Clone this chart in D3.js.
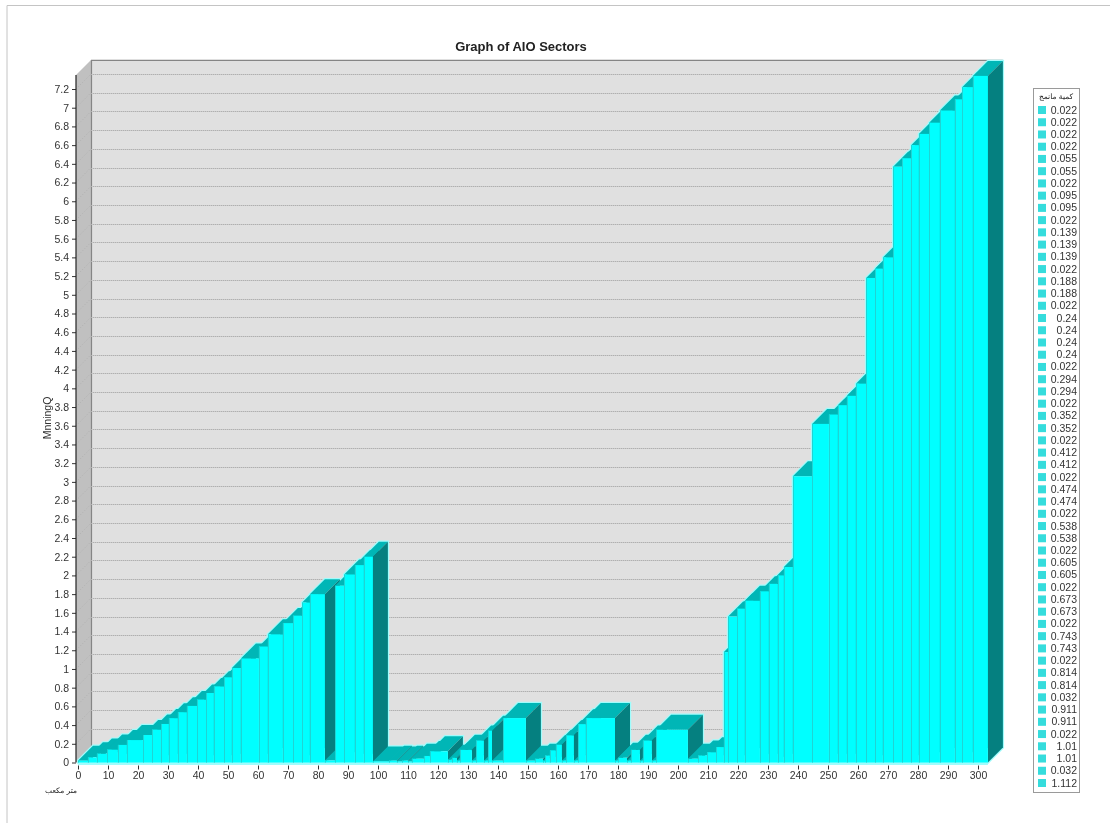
<!DOCTYPE html>
<html>
<head>
<meta charset="utf-8">
<script src="https://cdnjs.cloudflare.com/ajax/libs/d3/7.8.5/d3.min.js"></script>
<style>
  html, body { margin: 0; padding: 0; background: #fff; }
  /* the reference is a soft jpeg */
  svg { display: block; font-family: "Liberation Sans", Arial, sans-serif; filter: blur(0.4px); }
</style>
</head>
<body>
<div id="chart"></div>
<script>
// left edge of every bar on the x axis, last entry is the right end of the final bar
var binEdges = [
  0, 3.3, 6.3, 9.7, 13.3, 16.3, 21.7, 24.7, 27.7, 30.3, 33.3, 36.3, 39.7, 42.7, 45.3, 48.7, 51.3, 54.3,
  60.3, 63.3, 68.3, 71.7, 74.7, 77.3, 82.3, 85.7, 88.7, 92.3, 95.3, 98.3,
  103.7, 106.3, 108, 110, 111.3, 115.3, 117.3, 123.3, 124.7, 126.3, 127.3, 131.3, 132.7, 135.3, 136.7, 138, 141.7,
  149.3, 152.3, 155, 155.7, 157.3, 159.3, 161.3, 162.7, 165.3, 166.7, 169.3,
  179, 180, 183, 184.3, 187.3, 188.3, 191.3, 192.7,
  203.3, 206.7, 209.7, 212.7, 215.3, 216.7, 219.7, 222.3, 227.3, 230.3, 233.3, 235.3, 238.3,
  244.7, 250.3, 253.3, 256.3, 259.3, 262.7, 265.7, 268.3, 271.7, 274.7, 277.7, 280.3, 283.7, 287.3, 292.3, 294.7, 298.3,
  303.3
];
var binValues = [
  0.02, 0.055, 0.095, 0.139, 0.188, 0.24, 0.294, 0.352, 0.412, 0.474, 0.538, 0.605, 0.673, 0.743, 0.814, 0.911, 1.01, 1.112,
  1.24, 1.37, 1.49, 1.57, 1.71, 1.80, 0.022, 1.89, 2.01, 2.11, 2.20, 0.012,
  0.02, 0.01, 0.02, 0.01, 0.04, 0.07, 0.12, 0.03, 0.05, 0.02, 0.135, 0.02, 0.235, 0.02, 0.34, 0.02, 0.475,
  0.02, 0.04, 0.02, 0.075, 0.13, 0.19, 0.02, 0.29, 0.02, 0.41, 0.475,
  0.02, 0.05, 0.02, 0.135, 0.02, 0.235, 0.02, 0.35,
  0.04, 0.075, 0.11, 0.165, 1.18, 1.56, 1.645, 1.73, 1.83, 1.91, 2.0, 2.09, 3.06,
  3.62, 3.72, 3.82, 3.92, 4.05, 5.18, 5.28, 5.40, 6.37, 6.46, 6.6, 6.72, 6.84, 6.97, 7.09, 7.22, 7.34
];
var xTicks = [0,10,20,30,40,50,60,70,80,90,100,110,120,130,140,150,160,170,180,190,200,210,220,230,240,250,260,270,280,290,300];
var yTicks = [0,0.2,0.4,0.6,0.8,1,1.2,1.4,1.6,1.8,2,2.2,2.4,2.6,2.8,3,3.2,3.4,3.6,3.8,4,4.2,4.4,4.6,4.8,5,5.2,5.4,5.6,5.8,6,6.2,6.4,6.6,6.8,7,7.2];
var legendValues = [
  "0.022","0.022","0.022","0.022","0.055","0.055","0.022","0.095","0.095","0.022","0.139","0.139","0.139","0.022",
  "0.188","0.188","0.022","0.24","0.24","0.24","0.24","0.022","0.294","0.294","0.022","0.352","0.352","0.022",
  "0.412","0.412","0.022","0.474","0.474","0.022","0.538","0.538","0.022","0.605","0.605","0.022","0.673","0.673",
  "0.022","0.743","0.743","0.022","0.814","0.814","0.032","0.911","0.911","0.022","1.01","1.01","0.032","1.112"
];

var width = 1110, height = 823;
var depth = 15;   // 3d offset of the back wall

var svg = d3.select("#chart").append("svg")
  .attr("width", width)
  .attr("height", height);

var x = d3.scaleLinear().domain([0, 300]).range([78, 978]);
var y = d3.scaleLinear().domain([0, 7.2]).range([762.5, 89]);
var yTop = y(7.35);

// outer frame, only top and left show in the picture
svg.append("path")
  .attr("d", "M7,823V5.5H1110")
  .attr("fill", "none")
  .attr("stroke", "#c4c4c4");

svg.append("text")
  .attr("x", 521).attr("y", 51)
  .attr("text-anchor", "middle")
  .attr("font-size", 13).attr("font-weight", "bold").attr("fill", "#222")
  .text("Graph of AIO Sectors");

// walls
var left = x(0) - 2, right = x(303.3);
svg.append("path")
  .attr("d", "M" + left + "," + y(0) + "V" + yTop + "l" + depth + "," + (-depth) + "V" + (y(0) - depth) + "Z")
  .attr("fill", "#c0c0c0");
svg.append("rect")
  .attr("x", left + depth).attr("y", yTop - depth)
  .attr("width", right - left).attr("height", y(0) - yTop)
  .attr("fill", "#e0e0e0");
svg.append("path")
  .attr("d", "M" + (left + depth + 0.5) + "," + (y(0) - depth) + "V" + (yTop - depth + 0.5) + "H" + (right + depth))
  .attr("fill", "none").attr("stroke", "#858585").attr("stroke-width", 1.2);

// grid lines on both walls
var grid = svg.append("g");
yTicks.forEach(function(v) {
  if (v === 0) return;
  var gy = Math.round(y(v) - depth) + 0.5;
  grid.append("line")
    .attr("x1", left + depth).attr("x2", right + depth)
    .attr("y1", gy).attr("y2", gy)
    .attr("stroke", "#cacaca");
  grid.append("line")
    .attr("x1", left + depth).attr("x2", right + depth)
    .attr("y1", gy).attr("y2", gy)
    .attr("stroke", "#b0b0b0").attr("stroke-dasharray", "1,1");
  grid.append("line")
    .attr("x1", left).attr("x2", left + depth)
    .attr("y1", y(v)).attr("y2", y(v) - depth)
    .attr("stroke", "#a4a4a4").attr("stroke-width", 0.6).attr("stroke-dasharray", "1,2");
});

var bars = binValues.map(function(v, i) {
  return {x0: binEdges[i], x1: binEdges[i + 1], value: v};
});

function outline(d) {
  var a = x(d.x0), b = x(d.x1), t = y(d.value), z = y(0);
  return "M" + a + "," + z + "V" + t + "l" + depth + "," + (-depth) + "H" + (b + depth) +
    "V" + (z - depth) + "L" + b + "," + z + "Z";
}

// light rim round the whole silhouette, the bars are painted over it
svg.append("g").selectAll("path")
  .data(bars)
  .join("path")
  .attr("d", outline)
  .attr("fill", "none")
  .attr("stroke", "#9ffcfc")
  .attr("stroke-width", 2.4);
svg.append("rect")
  .attr("x", x(0)).attr("y", y(0))
  .attr("width", x(303.3) - x(0)).attr("height", 2.5)
  .attr("fill", "#9ffcfc");

// left to right so each bar hides the side of the previous one
var bar = svg.append("g").selectAll("g")
  .data(bars)
  .join("g");

bar.append("path")
  .attr("fill", "#00b6b6")
  .attr("d", function(d) {
    return "M" + x(d.x0) + "," + y(d.value) + "l" + depth + "," + (-depth) + "H" + (x(d.x1) + depth) +
      "l" + (-depth) + "," + depth + "Z";
  });
bar.append("path")
  .attr("fill", "#058080")
  .attr("d", function(d) {
    return "M" + x(d.x1) + "," + y(d.value) + "l" + depth + "," + (-depth) + "V" + (y(0) - depth) +
      "L" + x(d.x1) + "," + y(0) + "Z";
  });
bar.append("rect")
  .attr("fill", "#00ffff")
  .attr("x", function(d) { return x(d.x0); })
  .attr("y", function(d) { return y(d.value); })
  .attr("width", function(d) { return x(d.x1) - x(d.x0); })
  .attr("height", function(d) { return y(0) - y(d.value); });
bar.append("line")
  .attr("stroke", "#1fd4d4")
  .attr("x1", function(d) { return Math.round(x(d.x0)) + 0.5; })
  .attr("x2", function(d) { return Math.round(x(d.x0)) + 0.5; })
  .attr("y1", function(d) { return y(d.value); })
  .attr("y2", y(0));

// axes
var xAxis = svg.append("g")
  .attr("transform", "translate(0," + (y(0) + 3) + ")")
  .call(d3.axisBottom(x).tickValues(xTicks).tickSize(4).tickPadding(2).tickFormat(d3.format("d")));
xAxis.select(".domain").remove();
xAxis.selectAll("line").attr("stroke", "#333");
xAxis.selectAll("text").attr("font-size", 10.5).attr("font-family", null).attr("fill", "#333");

var yAxis = svg.append("g")
  .attr("transform", "translate(" + left + ",0)")
  .call(d3.axisLeft(y).tickValues(yTicks).tickSize(4).tickPadding(3).tickFormat(d3.format("~g")));
yAxis.select(".domain").remove();
yAxis.append("line")
  .attr("y1", yTop).attr("y2", y(0))
  .attr("stroke", "#222").attr("stroke-width", 1.2);
yAxis.selectAll(".tick line").attr("stroke", "#333");
yAxis.selectAll("text").attr("font-size", 10.5).attr("font-family", null).attr("fill", "#333");

svg.append("text")
  .attr("transform", "translate(51,418) rotate(-90)")
  .attr("text-anchor", "middle")
  .attr("font-size", 10.5).attr("fill", "#333")
  .text("MnningQ");

svg.append("text")
  .attr("x", 61).attr("y", 793)
  .attr("text-anchor", "middle")
  .attr("font-family", "'DejaVu Sans', sans-serif")
  .attr("font-size", 7.5).attr("fill", "#222")
  .text("متر مكعب");

// legend
var legend = svg.append("g");
legend.append("rect")
  .attr("x", 1033.5).attr("y", 88.5)
  .attr("width", 46).attr("height", 704)
  .attr("fill", "#fff").attr("stroke", "#9a9a9a");
legend.append("text")
  .attr("x", 1056).attr("y", 99)
  .attr("text-anchor", "middle")
  .attr("font-family", "'DejaVu Sans', sans-serif")
  .attr("font-size", 7.5).attr("fill", "#222")
  .text("كمية مانمج");

var legendY = d3.scalePoint()
  .domain(d3.range(legendValues.length))
  .range([110, 783]);

var row = legend.selectAll(".row")
  .data(legendValues)
  .join("g")
  .attr("class", "row")
  .attr("transform", function(d, i) { return "translate(0," + legendY(i) + ")"; });
row.append("rect")
  .attr("x", 1038).attr("y", -4)
  .attr("width", 8).attr("height", 8)
  .attr("fill", "#35dcdc");
row.append("text")
  .attr("x", 1077).attr("y", 3.5)
  .attr("text-anchor", "end")
  .attr("font-size", 10.5).attr("fill", "#333")
  .text(function(d) { return d; });
</script>
</body>
</html>
